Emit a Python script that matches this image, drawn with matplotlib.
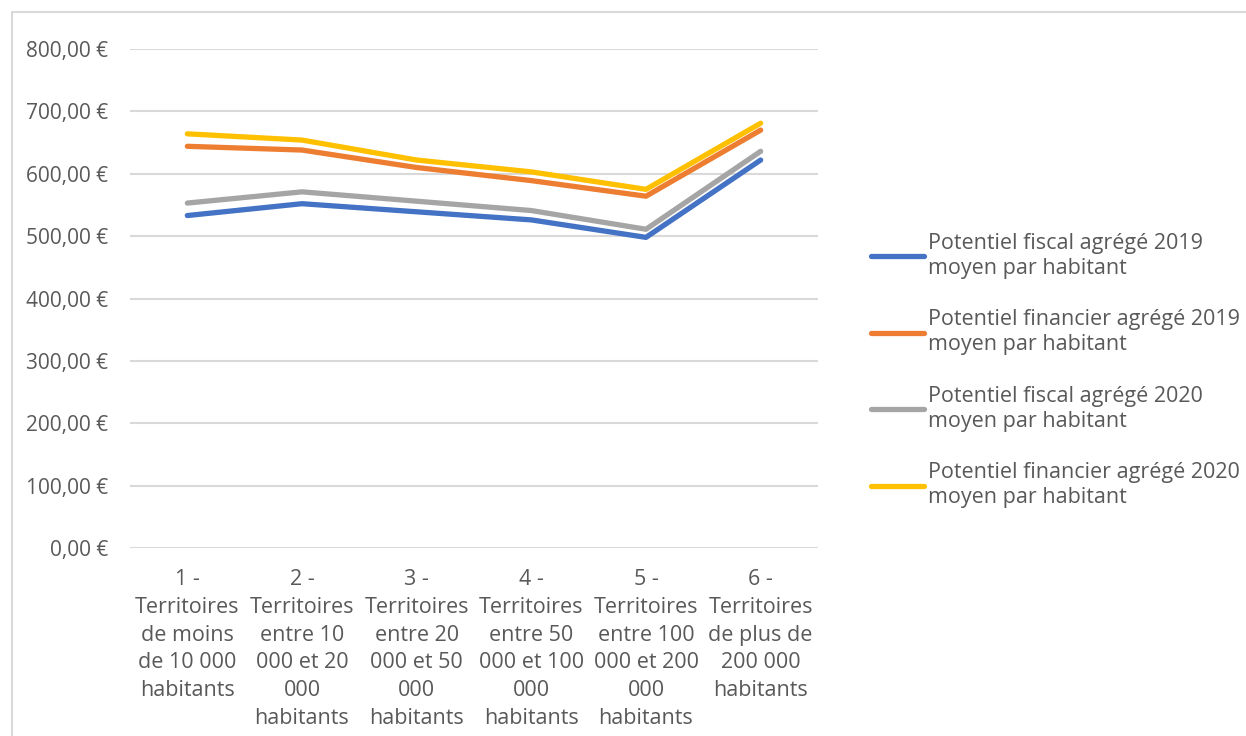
import matplotlib
matplotlib.use("Agg")
import matplotlib.pyplot as plt
from matplotlib.patches import Rectangle
from matplotlib.ticker import FuncFormatter

plt.rcParams['font.family'] = ['Open Sans', 'DejaVu Sans']

categories = [
    "1 -\nTerritoires\nde moins\nde 10 000\nhabitants",
    "2 -\nTerritoires\nentre 10\n000 et 20\n000\nhabitants",
    "3 -\nTerritoires\nentre 20\n000 et 50\n000\nhabitants",
    "4 -\nTerritoires\nentre 50\n000 et 100\n000\nhabitants",
    "5 -\nTerritoires\nentre 100\n000 et 200\n000\nhabitants",
    "6 -\nTerritoires\nde plus de\n200 000\nhabitants",
]
fiscal_2019 = [533, 552, 539, 526, 498, 622]
financier_2019 = [644, 638, 610, 589, 564, 670]
fiscal_2020 = [553, 571, 556, 541, 511, 636]
financier_2020 = [664, 654, 622, 603, 575, 681]

series = [
    ("Potentiel fiscal agrégé 2019\nmoyen par habitant", fiscal_2019, "#4472C4"),
    ("Potentiel financier agrégé 2019\nmoyen par habitant", financier_2019, "#ED7D31"),
    ("Potentiel fiscal agrégé 2020\nmoyen par habitant", fiscal_2020, "#A5A5A5"),
    ("Potentiel financier agrégé 2020\nmoyen par habitant", financier_2020, "#FFC000"),
]

W, H = 1246, 736
fig = plt.figure(figsize=(W / 100, H / 100), dpi=100)
ax = fig.add_axes([130 / W, 1 - 548 / H, 688 / W, (548 - 49) / H])

x = [i + 0.5 for i in range(len(categories))]
for label, vals, col in series:
    ax.plot(x, vals, color=col, lw=3.8, label=label, solid_capstyle='round',
            solid_joinstyle='round')

ax.set_xlim(0, 6)
ax.set_ylim(0, 800)
ax.set_yticks(range(0, 801, 100))
ax.yaxis.set_major_formatter(FuncFormatter(lambda v, p: f"{v:,.2f}".replace(",", " ").replace(".", ",") + " €"))
ax.set_xticks(x)
ax.set_xticklabels(categories, linespacing=1.43, va='top')
ax.tick_params(axis='y', length=0, labelsize=15, labelcolor='#595959', pad=16)
ax.tick_params(axis='x', length=0, labelsize=15.5, labelcolor='#595959', pad=15)
ax.grid(axis='y', color='#D9D9D9', lw=1.5)
ax.set_axisbelow(True)
for s in ax.spines.values():
    s.set_visible(False)

leg = fig.legend(loc='upper left', bbox_to_anchor=(862 / W, 1 - 224 / H),
                 frameon=False, fontsize=15.5, labelcolor='#595959',
                 handlelength=2.5, handletextpad=0.15, labelspacing=1.4,
                 borderaxespad=0)
for t in leg.get_texts():
    t.set_linespacing(1.27)

fig.patches.append(Rectangle((12 / W, -0.01), 1.1, 1 - 12 / H + 0.01,
                             transform=fig.transFigure, fill=False,
                             edgecolor='#D9D9D9', lw=1.5))

fig.savefig("out.png", dpi=100)
